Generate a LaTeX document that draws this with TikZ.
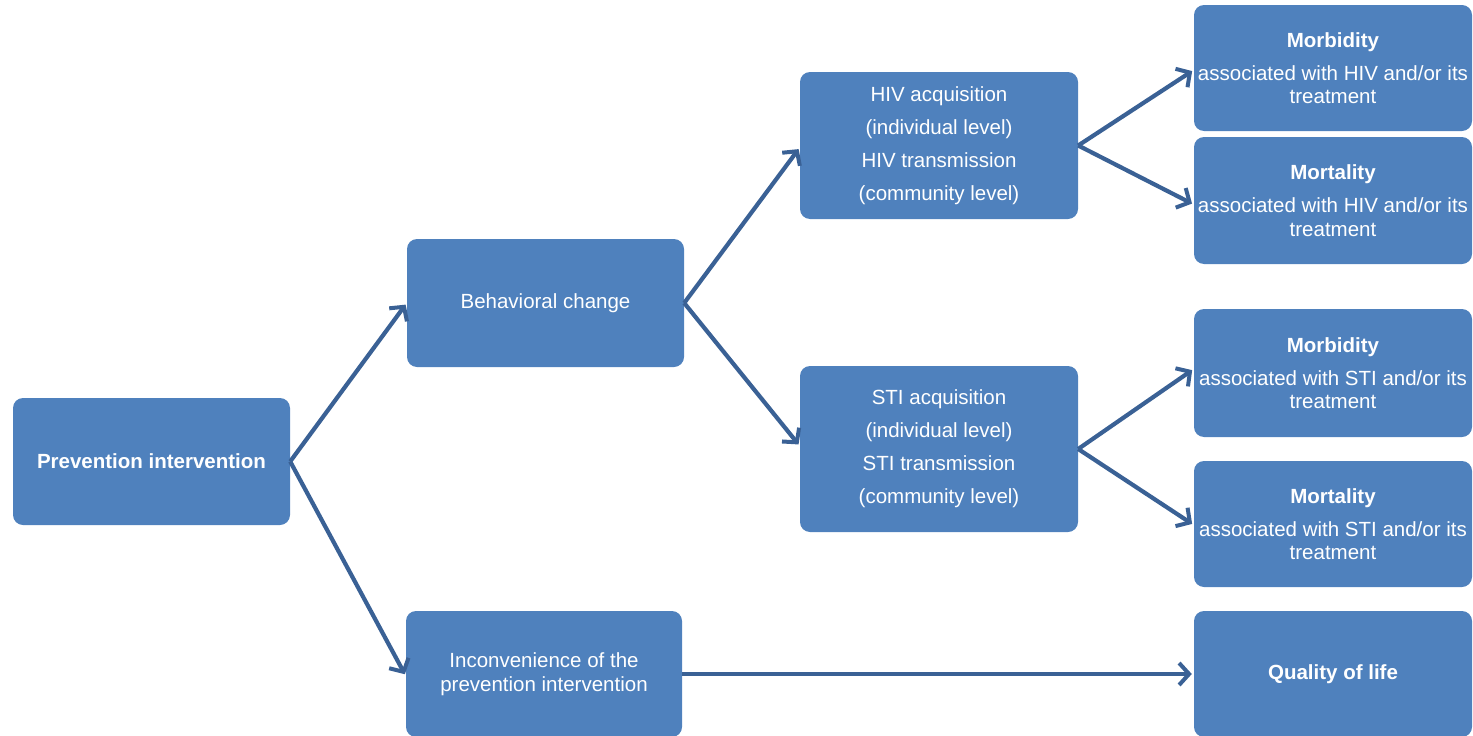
\documentclass[tikz,border=0pt]{standalone}
\usepackage{fontspec}
\setmainfont{Liberation Sans}
\usetikzlibrary{arrows.meta}
\definecolor{boxblue}{HTML}{4F81BD}
\definecolor{arrowblue}{HTML}{3A6195}
\tikzset{
  box/.style={fill=boxblue, rounded corners=10pt, text=white, align=center,
    inner sep=0pt, font=\fontsize{20.5}{23.5}\selectfont},
  conn/.style={draw=arrowblue, line width=4.2pt,
    -{Straight Barb[length=10pt,width=22pt,line width=4pt]}, shorten >=2pt}
}
\begin{document}
\begin{tikzpicture}[x=1pt,y=-1pt]
\useasboundingbox (0,0) rectangle (1473,736);
\node[box, minimum width=277pt, minimum height=127pt] (prev) at (151.5,461.5) {\textbf{Prevention intervention}};
\node[box, minimum width=277pt, minimum height=128pt] (beh) at (545.5,303) {Behavioral change};
\node[box, minimum width=278pt, minimum height=147pt] (hiv) at (939,145.5) {HIV acquisition\\[9.5pt](individual level)\\[9.5pt]HIV transmission\\[9.5pt](community level)};
\node[box, minimum width=278pt, minimum height=166pt] (sti) at (939,449) {STI acquisition\\[9.5pt](individual level)\\[9.5pt]STI transmission\\[9.5pt](community level)};
\node[box, minimum width=276pt, minimum height=126pt] (inc) at (544,674) {Inconvenience of the\\prevention intervention};
\node[box, minimum width=278pt, minimum height=126pt] (m1) at (1333,68) {\textbf{Morbidity}\\[9.5pt]associated with HIV and/or its\\treatment};
\node[box, minimum width=278pt, minimum height=127pt] (d1) at (1333,200.5) {\textbf{Mortality}\\[9.5pt]associated with HIV and/or its\\treatment};
\node[box, minimum width=278pt, minimum height=128pt] (m2) at (1333,373) {\textbf{Morbidity}\\[9.5pt]associated with STI and/or its\\treatment};
\node[box, minimum width=278pt, minimum height=126pt] (d2) at (1333,524) {\textbf{Mortality}\\[9.5pt]associated with STI and/or its\\treatment};
\node[box, minimum width=278pt, minimum height=126pt] (q) at (1333,674) {\textbf{Quality of life}};

\draw[conn] (prev.east) -- (beh.west);
\draw[conn] (prev.east) -- ([yshift=-2pt]inc.west);
\draw[conn] (beh.east) -- ([yshift=-2pt]hiv.west);
\draw[conn] (beh.east) -- ([yshift=3pt]sti.west);
\draw[conn] (hiv.east) -- ([yshift=-2pt]m1.west);
\draw[conn] (hiv.east) -- ([yshift=-4pt]d1.west);
\draw[conn] (sti.east) -- ([yshift=4pt]m2.west);
\draw[conn] (sti.east) -- ([yshift=-1pt]d2.west);
\draw[conn] (inc.east) -- (q.west);
\end{tikzpicture}
\end{document}
